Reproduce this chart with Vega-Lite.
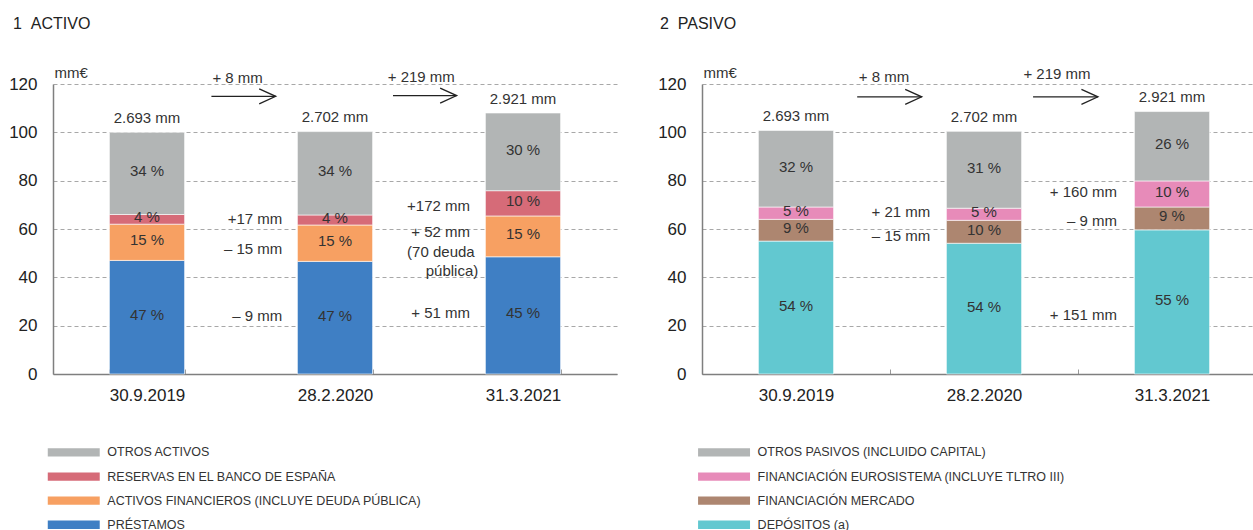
{
  "$schema": "https://vega.github.io/schema/vega-lite/v6.json",
  "padding": {"left": 8, "top": 16, "right": 0, "bottom": 0},
  "background": "white",
  "spacing": 40,
  "datasets": {
    "activo": [
      {"fecha": "30.9.2019", "serie": "PRÉSTAMOS", "k": 1, "valor": 47.0, "pct": "47 %", "tot": "2.693 mm"},
      {"fecha": "30.9.2019", "serie": "ACTIVOS FINANCIEROS (INCLUYE DEUDA PÚBLICA)", "k": 2, "valor": 15.0, "pct": "15 %", "tot": "2.693 mm"},
      {"fecha": "30.9.2019", "serie": "RESERVAS EN EL BANCO DE ESPAÑA", "k": 3, "valor": 4.0, "pct": "4 %", "tot": "2.693 mm"},
      {"fecha": "30.9.2019", "serie": "OTROS ACTIVOS", "k": 4, "valor": 34.0, "pct": "34 %", "tot": "2.693 mm"},
      {"fecha": "28.2.2020", "serie": "PRÉSTAMOS", "k": 1, "valor": 46.6, "pct": "47 %", "tot": "2.702 mm"},
      {"fecha": "28.2.2020", "serie": "ACTIVOS FINANCIEROS (INCLUYE DEUDA PÚBLICA)", "k": 2, "valor": 15.05, "pct": "15 %", "tot": "2.702 mm"},
      {"fecha": "28.2.2020", "serie": "RESERVAS EN EL BANCO DE ESPAÑA", "k": 3, "valor": 4.15, "pct": "4 %", "tot": "2.702 mm"},
      {"fecha": "28.2.2020", "serie": "OTROS ACTIVOS", "k": 4, "valor": 34.5, "pct": "34 %", "tot": "2.702 mm"},
      {"fecha": "31.3.2021", "serie": "PRÉSTAMOS", "k": 1, "valor": 48.5, "pct": "45 %", "tot": "2.921 mm"},
      {"fecha": "31.3.2021", "serie": "ACTIVOS FINANCIEROS (INCLUYE DEUDA PÚBLICA)", "k": 2, "valor": 16.9, "pct": "15 %", "tot": "2.921 mm"},
      {"fecha": "31.3.2021", "serie": "RESERVAS EN EL BANCO DE ESPAÑA", "k": 3, "valor": 10.45, "pct": "10 %", "tot": "2.921 mm"},
      {"fecha": "31.3.2021", "serie": "OTROS ACTIVOS", "k": 4, "valor": 32.15, "pct": "30 %", "tot": "2.921 mm"}
    ],
    "pasivo": [
      {"fecha": "30.9.2019", "serie": "DEPÓSITOS (a)", "k": 1, "valor": 55.0, "pct": "54 %", "tot": "2.693 mm"},
      {"fecha": "30.9.2019", "serie": "FINANCIACIÓN MERCADO", "k": 2, "valor": 9.0, "pct": "9 %", "tot": "2.693 mm"},
      {"fecha": "30.9.2019", "serie": "FINANCIACIÓN EUROSISTEMA (INCLUYE TLTRO III)", "k": 3, "valor": 5.1, "pct": "5 %", "tot": "2.693 mm"},
      {"fecha": "30.9.2019", "serie": "OTROS PASIVOS (INCLUIDO CAPITAL)", "k": 4, "valor": 31.7, "pct": "32 %", "tot": "2.693 mm"},
      {"fecha": "28.2.2020", "serie": "DEPÓSITOS (a)", "k": 1, "valor": 54.1, "pct": "54 %", "tot": "2.702 mm"},
      {"fecha": "28.2.2020", "serie": "FINANCIACIÓN MERCADO", "k": 2, "valor": 9.5, "pct": "10 %", "tot": "2.702 mm"},
      {"fecha": "28.2.2020", "serie": "FINANCIACIÓN EUROSISTEMA (INCLUYE TLTRO III)", "k": 3, "valor": 5.0, "pct": "5 %", "tot": "2.702 mm"},
      {"fecha": "28.2.2020", "serie": "OTROS PASIVOS (INCLUIDO CAPITAL)", "k": 4, "valor": 31.8, "pct": "31 %", "tot": "2.702 mm"},
      {"fecha": "31.3.2021", "serie": "DEPÓSITOS (a)", "k": 1, "valor": 59.65, "pct": "55 %", "tot": "2.921 mm"},
      {"fecha": "31.3.2021", "serie": "FINANCIACIÓN MERCADO", "k": 2, "valor": 9.45, "pct": "9 %", "tot": "2.921 mm"},
      {"fecha": "31.3.2021", "serie": "FINANCIACIÓN EUROSISTEMA (INCLUYE TLTRO III)", "k": 3, "valor": 10.8, "pct": "10 %", "tot": "2.921 mm"},
      {"fecha": "31.3.2021", "serie": "OTROS PASIVOS (INCLUIDO CAPITAL)", "k": 4, "valor": 28.7, "pct": "26 %", "tot": "2.921 mm"}
    ],
    "notas_activo": [
      {"x": 1.22, "y": 64.1, "t": "+17 mm"},
      {"x": 1.22, "y": 51.7, "t": "– 15 mm"},
      {"x": 1.22, "y": 23.8, "t": "– 9 mm"},
      {"x": 2.218, "y": 69.5, "t": "+172 mm"},
      {"x": 2.218, "y": 58.6, "t": "+ 52 mm"},
      {"x": 2.243, "y": 50.3, "t": "(70 deuda"},
      {"x": 2.262, "y": 42.5, "t": "pública)"},
      {"x": 2.218, "y": 25.2, "t": "+ 51 mm"}
    ],
    "flechas_activo": [
      {"x1": 0.8426, "x2": 1.1846, "y": 114.9, "tx": 0.982, "ty": 122.5, "t": "+ 8 mm"},
      {"x1": 1.8085, "x2": 2.147, "y": 115.2, "tx": 1.959, "ty": 122.7, "t": "+ 219 mm"}
    ],
    "notas_pasivo": [
      {"x": 1.214, "y": 66.9, "t": "+ 21 mm"},
      {"x": 1.214, "y": 56.9, "t": "– 15 mm"},
      {"x": 2.207, "y": 75.4, "t": "+ 160 mm"},
      {"x": 2.207, "y": 63.4, "t": "– 9 mm"},
      {"x": 2.207, "y": 24.4, "t": "+ 151 mm"}
    ],
    "flechas_pasivo": [
      {"x1": 0.8255, "x2": 1.1686, "y": 114.7, "tx": 0.968, "ty": 123.0, "t": "+ 8 mm"},
      {"x1": 1.761, "x2": 2.106, "y": 114.7, "tx": 1.888, "ty": 124.2, "t": "+ 219 mm"}
    ]
  },
  "hconcat": [
    {
      "width": 564,
      "height": 290,
      "title": {"text": "1\u00a0\u00a0ACTIVO", "dx": -40},
      "resolve": {"scale": {"x": "independent"}},
      "layer": [
        {
          "data": {"name": "activo"},
          "mark": {"type": "bar", "stroke": "#ffffff", "strokeWidth": 0.6},
          "encoding": {
            "x": {"field": "fecha", "type": "nominal", "sort": ["30.9.2019", "28.2.2020", "31.3.2021"],
              "scale": {"type": "band", "paddingInner": 0.6, "paddingOuter": 0.3},
              "axis": {"title": null, "labelAngle": 0, "labelFontSize": 17, "labelColor": "#222", "tickBand": "extent", "tickSize": -5, "tickColor": "#9a9a9a", "tickWidth": 1, "labelPadding": 18, "domainColor": "#7f7f7f", "domainWidth": 1.5}},
            "y": {"field": "valor", "type": "quantitative", "stack": "zero",
              "scale": {"domain": [0, 120], "nice": false},
              "axis": {"title": "mm€", "titleAngle": 0, "titleAlign": "left", "titleBaseline": "alphabetic", "titleX": 1, "titleY": -7, "titleFontSize": 15, "titleFontWeight": "normal", "titleColor": "#333", "labelFontSize": 17, "labelColor": "#222", "labelPadding": 16, "ticks": false, "domainColor": "#7f7f7f", "domainWidth": 1.5, "grid": true, "gridDash": [4, 3], "gridColor": "#a8a8a8", "gridWidth": 1, "values": [0, 20, 40, 60, 80, 100, 120]}},
            "color": {"field": "serie", "type": "nominal",
              "scale": {"domain": ["OTROS ACTIVOS", "RESERVAS EN EL BANCO DE ESPAÑA", "ACTIVOS FINANCIEROS (INCLUYE DEUDA PÚBLICA)", "PRÉSTAMOS"], "range": ["#b2b5b5", "#d66b78", "#f7a062", "#3f7fc4"]},
              "legend": {"orient": "none", "legendX": 14.5, "legendY": 362.2, "direction": "vertical", "title": null, "padding": 0, "symbolType": "M-5,-0.8H5V0.8H-5Z", "symbolSize": 108, "symbolStrokeWidth": 0, "symbolOpacity": 1, "labelFont": "Liberation Sans", "labelFontSize": 12.5, "labelColor": "#333", "labelOffset": 27.3, "rowPadding": 11.1, "labelLimit": 700}},
            "order": {"field": "k", "type": "quantitative", "sort": "ascending"}
          }
        },
        {
          "data": {"name": "activo"},
          "transform": [
            {"stack": "valor", "groupby": ["fecha"], "sort": [{"field": "k", "order": "ascending"}], "as": ["y0", "y1"]},
            {"fold": ["y0", "y1"], "as": ["edge", "yy"]},
            {"aggregate": [{"op": "mean", "field": "yy", "as": "ymid"}], "groupby": ["fecha", "serie", "pct"]}
          ],
          "mark": {"type": "text", "fontSize": 15, "color": "#333", "baseline": "middle", "dy": -2},
          "encoding": {
            "x": {"field": "fecha", "type": "nominal", "sort": ["30.9.2019", "28.2.2020", "31.3.2021"], "scale": {"type": "band", "paddingInner": 0.6, "paddingOuter": 0.3}, "axis": null},
            "y": {"field": "ymid", "type": "quantitative"},
            "text": {"field": "pct"}
          }
        },
        {
          "data": {"name": "activo"},
          "transform": [
            {"aggregate": [{"op": "sum", "field": "valor", "as": "total"}], "groupby": ["fecha", "tot"]}
          ],
          "mark": {"type": "text", "fontSize": 15, "color": "#333", "baseline": "middle", "dy": -14.5},
          "encoding": {
            "x": {"field": "fecha", "type": "nominal", "sort": ["30.9.2019", "28.2.2020", "31.3.2021"], "scale": {"type": "band", "paddingInner": 0.6, "paddingOuter": 0.3}, "axis": null},
            "y": {"field": "total", "type": "quantitative"},
            "text": {"field": "tot"}
          }
        },
        {
          "data": {"name": "flechas_activo"},
          "mark": {"type": "rule", "color": "#222", "strokeWidth": 1.3},
          "encoding": {
            "x": {"field": "x1", "type": "quantitative", "scale": {"domain": [0, 3], "nice": false, "zero": false}, "axis": null},
            "x2": {"field": "x2"},
            "y": {"field": "y", "type": "quantitative"}
          }
        },
        {
          "data": {"name": "flechas_activo"},
          "mark": {"type": "point", "shape": "M-2.2,-1L0,0L-2.2,1", "size": 225, "filled": false, "color": "#222", "strokeWidth": 1.3, "opacity": 1},
          "encoding": {
            "x": {"field": "x2", "type": "quantitative", "scale": {"domain": [0, 3], "nice": false, "zero": false}, "axis": null},
            "y": {"field": "y", "type": "quantitative"}
          }
        },
        {
          "data": {"name": "flechas_activo"},
          "mark": {"type": "text", "fontSize": 15, "color": "#333", "baseline": "middle", "align": "center"},
          "encoding": {
            "x": {"field": "tx", "type": "quantitative", "scale": {"domain": [0, 3], "nice": false, "zero": false}, "axis": null},
            "y": {"field": "ty", "type": "quantitative"},
            "text": {"field": "t"}
          }
        },
        {
          "data": {"name": "notas_activo"},
          "mark": {"type": "text", "fontSize": 15, "color": "#333", "baseline": "middle", "align": "right"},
          "encoding": {
            "x": {"field": "x", "type": "quantitative", "scale": {"domain": [0, 3], "nice": false, "zero": false}, "axis": null},
            "y": {"field": "y", "type": "quantitative"},
            "text": {"field": "t"}
          }
        }
      ]
    },
    {
      "width": 552,
      "height": 290,
      "title": {"text": "2\u00a0\u00a0PASIVO", "dx": -42},
      "resolve": {"scale": {"x": "independent"}},
      "layer": [
        {
          "data": {"name": "pasivo"},
          "mark": {"type": "bar", "stroke": "#ffffff", "strokeWidth": 0.6},
          "encoding": {
            "x": {"field": "fecha", "type": "nominal", "sort": ["30.9.2019", "28.2.2020", "31.3.2021"],
              "scale": {"type": "band", "paddingInner": 0.6, "paddingOuter": 0.268, "align": 0.5595},
              "axis": {"title": null, "labelAngle": 0, "labelFontSize": 17, "labelColor": "#222", "tickOffset": -94, "labelOffset": 94, "tickSize": -5, "tickColor": "#9a9a9a", "tickWidth": 1, "labelPadding": 18, "domainColor": "#7f7f7f", "domainWidth": 1.5}},
            "y": {"field": "valor", "type": "quantitative", "stack": "zero",
              "scale": {"domain": [0, 120], "nice": false},
              "axis": {"title": "mm€", "titleAngle": 0, "titleAlign": "left", "titleBaseline": "alphabetic", "titleX": 1, "titleY": -7, "titleFontSize": 15, "titleFontWeight": "normal", "titleColor": "#333", "labelFontSize": 17, "labelColor": "#222", "labelPadding": 16, "ticks": false, "domainColor": "#7f7f7f", "domainWidth": 1.5, "grid": true, "gridDash": [4, 3], "gridColor": "#a8a8a8", "gridWidth": 1, "values": [0, 20, 40, 60, 80, 100, 120]}},
            "color": {"field": "serie", "type": "nominal",
              "scale": {"domain": ["OTROS PASIVOS (INCLUIDO CAPITAL)", "FINANCIACIÓN EUROSISTEMA (INCLUYE TLTRO III)", "FINANCIACIÓN MERCADO", "DEPÓSITOS (a)"], "range": ["#b2b5b5", "#e78bb9", "#ad8670", "#62c8d0"]},
              "legend": {"orient": "none", "legendX": 15.8, "legendY": 362.2, "direction": "vertical", "title": null, "padding": 0, "symbolType": "M-5,-0.8H5V0.8H-5Z", "symbolSize": 108, "symbolStrokeWidth": 0, "symbolOpacity": 1, "labelFont": "Liberation Sans", "labelFontSize": 12.5, "labelColor": "#333", "labelOffset": 27.3, "rowPadding": 11.1, "labelLimit": 700}},
            "order": {"field": "k", "type": "quantitative", "sort": "ascending"}
          }
        },
        {
          "data": {"name": "pasivo"},
          "transform": [
            {"stack": "valor", "groupby": ["fecha"], "sort": [{"field": "k", "order": "ascending"}], "as": ["y0", "y1"]},
            {"fold": ["y0", "y1"], "as": ["edge", "yy"]},
            {"aggregate": [{"op": "mean", "field": "yy", "as": "ymid"}], "groupby": ["fecha", "serie", "pct"]}
          ],
          "mark": {"type": "text", "fontSize": 15, "color": "#333", "baseline": "middle", "dy": -2},
          "encoding": {
            "x": {"field": "fecha", "type": "nominal", "sort": ["30.9.2019", "28.2.2020", "31.3.2021"], "scale": {"type": "band", "paddingInner": 0.6, "paddingOuter": 0.268, "align": 0.5595}, "axis": null},
            "y": {"field": "ymid", "type": "quantitative"},
            "text": {"field": "pct"}
          }
        },
        {
          "data": {"name": "pasivo"},
          "transform": [
            {"aggregate": [{"op": "sum", "field": "valor", "as": "total"}], "groupby": ["fecha", "tot"]}
          ],
          "mark": {"type": "text", "fontSize": 15, "color": "#333", "baseline": "middle", "dy": -14.5},
          "encoding": {
            "x": {"field": "fecha", "type": "nominal", "sort": ["30.9.2019", "28.2.2020", "31.3.2021"], "scale": {"type": "band", "paddingInner": 0.6, "paddingOuter": 0.268, "align": 0.5595}, "axis": null},
            "y": {"field": "total", "type": "quantitative"},
            "text": {"field": "tot"}
          }
        },
        {
          "data": {"name": "flechas_pasivo"},
          "mark": {"type": "rule", "color": "#222", "strokeWidth": 1.3},
          "encoding": {
            "x": {"field": "x1", "type": "quantitative", "scale": {"domain": [0, 2.93617], "nice": false, "zero": false}, "axis": null},
            "x2": {"field": "x2"},
            "y": {"field": "y", "type": "quantitative"}
          }
        },
        {
          "data": {"name": "flechas_pasivo"},
          "mark": {"type": "point", "shape": "M-2.2,-1L0,0L-2.2,1", "size": 225, "filled": false, "color": "#222", "strokeWidth": 1.3, "opacity": 1},
          "encoding": {
            "x": {"field": "x2", "type": "quantitative", "scale": {"domain": [0, 2.93617], "nice": false, "zero": false}, "axis": null},
            "y": {"field": "y", "type": "quantitative"}
          }
        },
        {
          "data": {"name": "flechas_pasivo"},
          "mark": {"type": "text", "fontSize": 15, "color": "#333", "baseline": "middle", "align": "center"},
          "encoding": {
            "x": {"field": "tx", "type": "quantitative", "scale": {"domain": [0, 2.93617], "nice": false, "zero": false}, "axis": null},
            "y": {"field": "ty", "type": "quantitative"},
            "text": {"field": "t"}
          }
        },
        {
          "data": {"name": "notas_pasivo"},
          "mark": {"type": "text", "fontSize": 15, "color": "#333", "baseline": "middle", "align": "right"},
          "encoding": {
            "x": {"field": "x", "type": "quantitative", "scale": {"domain": [0, 2.93617], "nice": false, "zero": false}, "axis": null},
            "y": {"field": "y", "type": "quantitative"},
            "text": {"field": "t"}
          }
        }
      ]
    }
  ],
  "resolve": {"scale": {"color": "independent", "y": "independent"}},
  "config": {
    "font": "Liberation Sans",
    "view": {"stroke": null},
    "title": {"anchor": "start", "frame": "group", "fontSize": 16, "fontWeight": "normal", "color": "#222", "offset": 33}
  }
}
